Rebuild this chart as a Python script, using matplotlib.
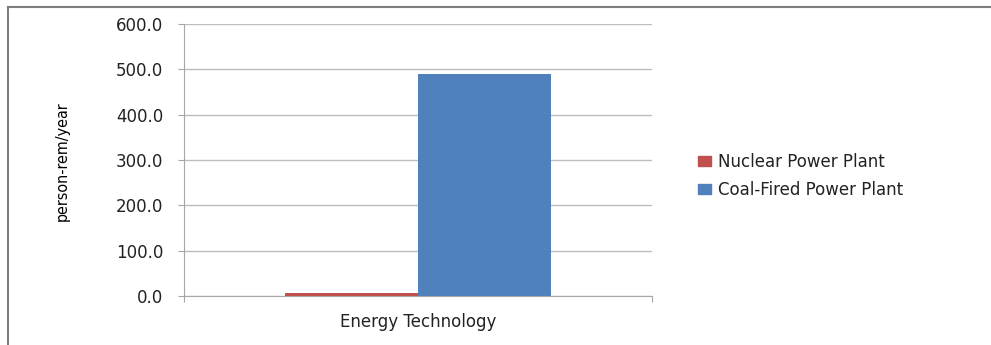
import numpy as np
import matplotlib
matplotlib.use("Agg")
import matplotlib.pyplot as plt
from matplotlib.lines import Line2D

category = "Energy Technology"
series = ["Nuclear Power Plant", "Coal-Fired Power Plant"]
values = [5.9, 490.0]
colors = ["#C0504D", "#4F81BD"]
yticks = [0, 100, 200, 300, 400, 500, 600]

plt.rcParams["font.family"] = ["DejaVu Sans"]

fig = plt.figure(figsize=(9.91, 3.45), dpi=100)
ax = fig.add_axes([184/991, 1-296/345, 468/991, 272/345])

bar_w = 0.284
offsets = [-bar_w/2, bar_w/2]
for name, v, c, off in zip(series, values, colors, offsets):
    ax.bar(off, v, width=bar_w, color=c, label=name, zorder=3)

ax.set_xlim(-0.5, 0.5)
ax.set_ylim(0, 600)
ax.set_yticks(yticks)
ax.set_yticklabels([f"{t:.1f}" for t in yticks], fontsize=12, color="#222222")
ax.yaxis.grid(True, color="#bdbdbd", linewidth=1, zorder=0)
ax.set_xticks([-0.5, 0.5])
ax.set_xticklabels([])
ax.tick_params(axis="x", length=4, color="#a6a6a6")
ax.tick_params(axis="y", length=4, color="#a6a6a6", pad=11)
for s in ["top", "right"]:
    ax.spines[s].set_visible(False)
for s in ["left", "bottom"]:
    ax.spines[s].set_color("#a6a6a6")

fig.text(418/991, 1-322/345, category, ha="center", va="center",
         fontsize=12, color="#222222")
fig.text(62/991, 1-161/345, "person-rem/year", rotation=90, ha="center", va="center",
         fontsize=11.5, fontstretch="condensed", fontweight="medium", color="#000000")

handles = [plt.Rectangle((0, 0), 1, 1, color=c) for c in colors]
fig.legend(handles, series, loc="center left", bbox_to_anchor=(683/991, 1-176/345),
           frameon=False, fontsize=12, handlelength=0.75, handleheight=0.55,
           handletextpad=0.45, labelspacing=0.6, labelcolor="#222222")

# outer chart border
fig.add_artist(Line2D([8/991, 8/991], [0, 1-7/345], color="#7f7f7f", linewidth=1.5))
fig.add_artist(Line2D([8/991, 1], [1-7/345, 1-7/345], color="#7f7f7f", linewidth=1.5))

fig.savefig("out.png", dpi=100)
